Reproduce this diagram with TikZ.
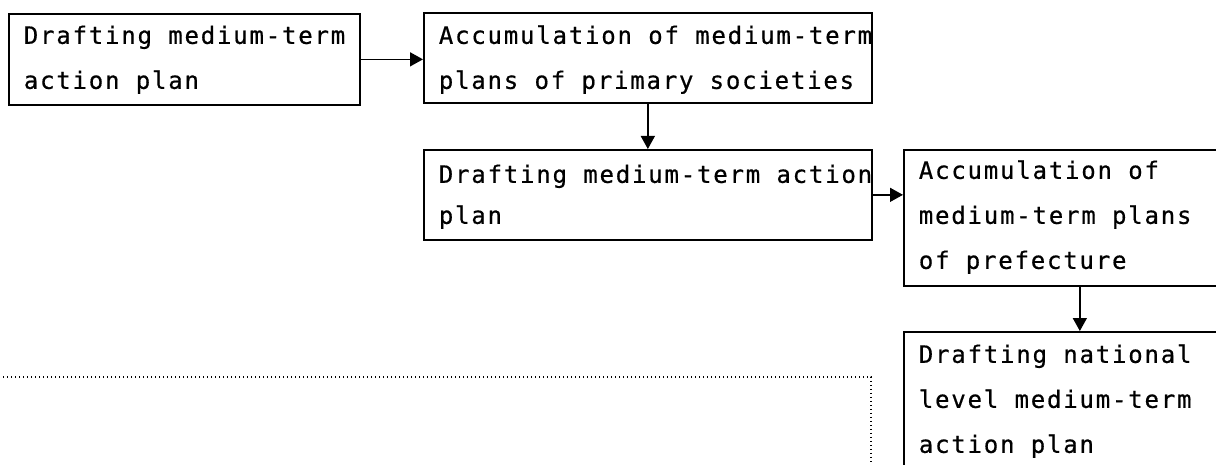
\documentclass[tikz,border=0pt]{standalone}
\usepackage{fontspec}
\usetikzlibrary{arrows.meta}
\newfontfamily\tfont[LetterSpace=7.5, FakeBold=0.6]{DejaVu Sans Mono}
\newcommand\boxtext[3][45pt]{\makebox[#2][l]{\vtop{\baselineskip=#1 #3}}}
\tikzset{
  box/.style={draw, line width=1.7pt, anchor=north west, inner xsep=15pt, inner ysep=0pt,
    font=\tfont\fontsize{24pt}{45pt}\selectfont},
  flow/.style={line width=1.5pt, -{Triangle[length=13pt,width=14pt]}},
  dots/.style={line width=1.4pt, dash pattern=on 1.4pt off 2.6pt}
}
\begin{document}
\begin{tikzpicture}[x=1pt, y=-1pt]
\useasboundingbox (0,0) rectangle (1216,465);
\clip (0,0) rectangle (1216,465);
\node[box, text height=30pt, text depth=61pt] (b1) at (8,13)
  {\boxtext{321pt}{\hbox{Drafting medium-term}\hbox{action plan}}};
\node[box, text height=31pt, text depth=59pt] (b2) at (423,12)
  {\boxtext{418pt}{\hbox{Accumulation of medium-term}\hbox{plans of primary societies}}};
\node[box, text height=33pt, text depth=57pt] (b3) at (423,149)
  {\boxtext[41pt]{418pt}{\hbox{Drafting medium-term action}\hbox{plan}}};
\node[box, text height=29pt, text depth=107pt] (b4) at (903,149)
  {\boxtext{322pt}{\hbox{Accumulation of}\hbox{medium-term plans}\hbox{of prefecture}}};
\node[box, text height=31pt, text depth=160pt] (b5) at (903,331)
  {\boxtext{322pt}{\hbox{Drafting national}\hbox{level medium-term}\hbox{action plan}}};
\draw[flow] (b1.east) -- (b1.east -| b2.west);
\draw[flow] (b2.south) -- (b3.north);
\draw[flow] (b3.east) -- (b3.east -| b4.west);
\draw[flow] (b4.south) -- (b5.north);
\coordinate (d1) at (-5,377);
\coordinate (d2) at (871,490);
\draw[dots] (d1) -| (d2);
\end{tikzpicture}
\end{document}
